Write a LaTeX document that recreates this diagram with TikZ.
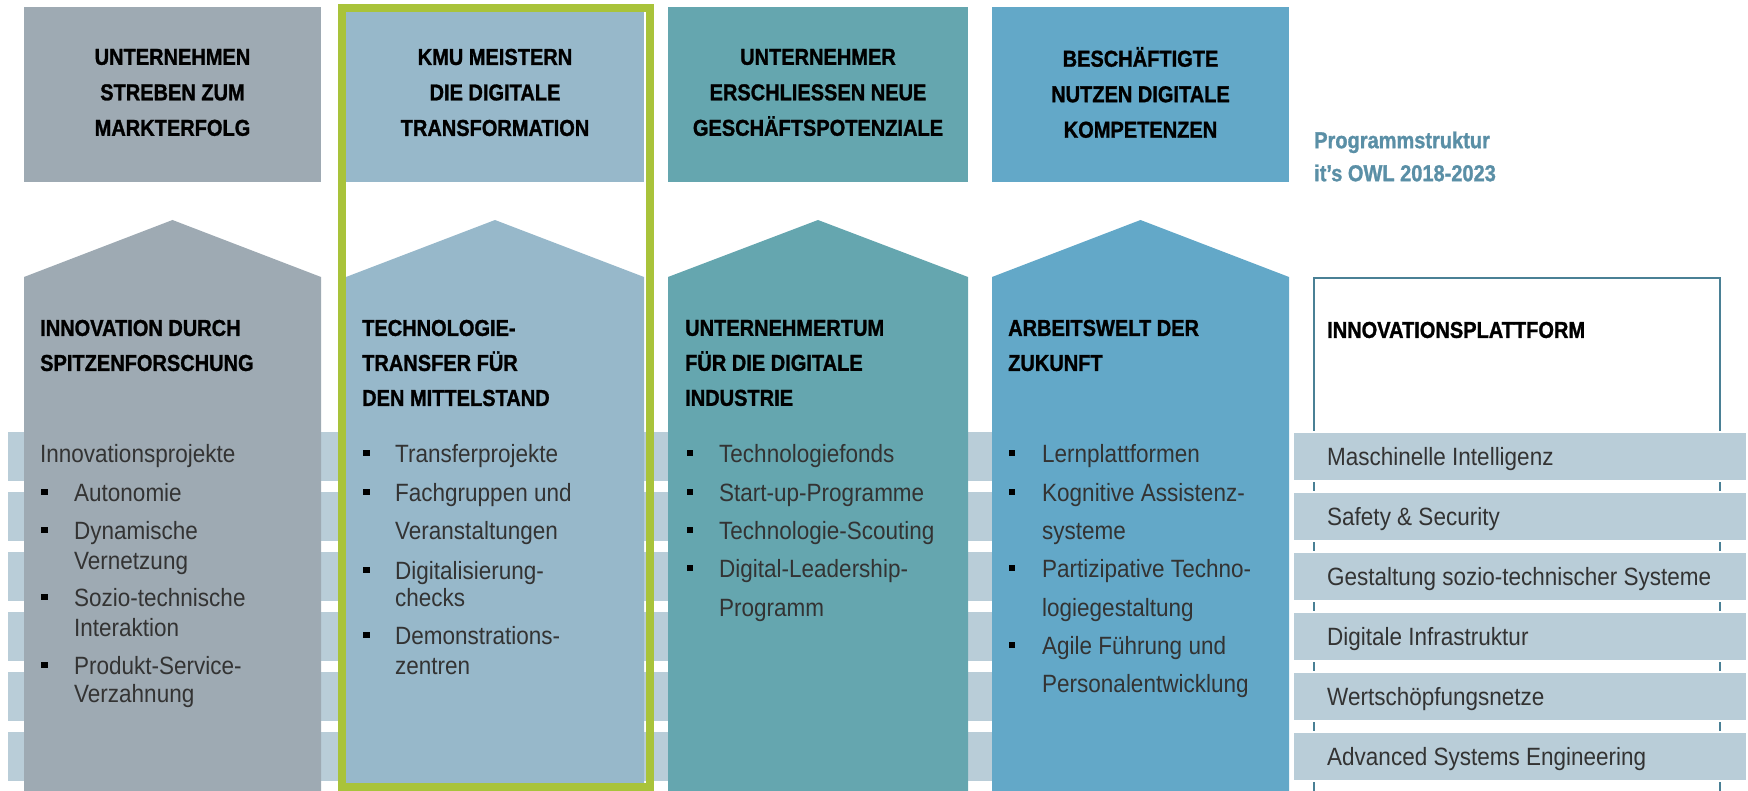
\documentclass[tikz,border=0pt]{standalone}
\usepackage{fontspec}
\setmainfont{Liberation Sans}
\newfontfamily\headfont{Liberation Sans}[FakeStretch=0.87,FakeBold=1.2]
\newfontfamily\bodyfont{Liberation Sans}[FakeStretch=0.9]
\definecolor{colgrey}{HTML}{9EAAB3}
\definecolor{collight}{HTML}{97B8CA}
\definecolor{colteal}{HTML}{65A6AF}
\definecolor{colblue}{HTML}{63A8C8}
\definecolor{stripegrey}{HTML}{B9CDD8}
\definecolor{framegreen}{HTML}{A9C33A}
\definecolor{titleblue}{HTML}{5A8FA6}
\definecolor{outlineblue}{HTML}{4A8095}

\begin{document}
\begin{tikzpicture}[x=1pt,y=-1pt,
	every node/.style={inner sep=0pt},
	headtext/.style={font=\headfont\bfseries\fontsize{23}{35.5}\selectfont,align=center},
	titletext/.style={font=\headfont\bfseries\fontsize{23}{35}\selectfont,align=left,anchor=west},
	itemtext/.style={font=\bodyfont\fontsize{25}{30}\selectfont,anchor=west,text height=18pt,text depth=0pt,text=black!80},
	bulletsq/.style={fill=black,minimum size=6.5pt},
	stripebar/.style={fill=stripegrey,draw=white,line width=2.5pt},
]
	\useasboundingbox (0,0) rectangle (1748,791);

	% Querbalken hinter den Saeulen
	\foreach \yy in {432,492,552,612,672,732}
		\fill[stripegrey] (8,\yy) rectangle (1289,\yy+49);

	% Saeulen: Ziel oben, Haus darunter
	\foreach \xa/\xb/\cc in {24/321/colgrey,346/644/collight,668/968/colteal,992/1289/colblue} {
		\fill[\cc] (\xa,7) rectangle (\xb,182);
		\fill[\cc] (\xa,277) -- ({(\xa+\xb)/2},220) -- (\xb,277) -- (\xb,791) -- (\xa,791) -- cycle;
	}
	\draw[framegreen,line width=8pt] (342,8) rectangle (650,787);

	\node[headtext] (h1) at (172.5,92.5) {UNTERNEHMEN\\STREBEN ZUM\\MARKTERFOLG};
	\node[headtext] (h2) at (495,92.5) {KMU MEISTERN\\DIE DIGITALE\\TRANSFORMATION};
	\node[headtext] (h3) at (818,92.5) {UNTERNEHMER\\ERSCHLIESSEN NEUE\\GESCHÄFTSPOTENZIALE};
	\node[headtext] (h4) at (1140.5,92.5) {BESCHÄFTIGTE\\NUTZEN DIGITALE\\KOMPETENZEN};

	\node[titletext] (t1) at (40,345.5) {INNOVATION DURCH\\SPITZENFORSCHUNG};
	\node[titletext] (t2) at (362,363) {TECHNOLOGIE-\\TRANSFER FÜR\\DEN MITTELSTAND};
	\node[titletext] (t3) at (685,363) {UNTERNEHMERTUM\\FÜR DIE DIGITALE\\INDUSTRIE};
	\node[titletext] (t4) at (1008,345.5) {ARBEITSWELT DER\\ZUKUNFT};

	% Spalte 1
	\node[itemtext] (p1) at (40,453) {Innovationsprojekte};
	\foreach \yy [count=\i] in {492,530,597,665}
		\node[bulletsq] (b1\i) at (44.5,\yy) {};
	\foreach \yy/\txt [count=\i] in {492/Autonomie,530/Dynamische,560/Vernetzung,597/Sozio-technische,627/Interaktion,665/Produkt-Service-,693/Verzahnung}
		\node[itemtext] (i1\i) at (74,\yy) {\txt};

	% Spalte 2
	\foreach \yy [count=\i] in {453,492,570,635}
		\node[bulletsq] (b2\i) at (366.5,\yy) {};
	\foreach \yy/\txt [count=\i] in {453/Transferprojekte,492/Fachgruppen und,530/Veranstaltungen,570/Digitalisierung-,597/checks,635/Demonstrations-,665/zentren}
		\node[itemtext] (i2\i) at (395,\yy) {\txt};

	% Spalte 3
	\foreach \yy [count=\i] in {453,492,530,568}
		\node[bulletsq] (b3\i) at (690,\yy) {};
	\foreach \yy/\txt [count=\i] in {453/Technologiefonds,492/Start-up-Programme,530/Technologie-Scouting,568/Digital-Leadership-,607/Programm}
		\node[itemtext] (i3\i) at (719,\yy) {\txt};

	% Spalte 4
	\foreach \yy [count=\i] in {453,492,568,645}
		\node[bulletsq] (b4\i) at (1012,\yy) {};
	\foreach \yy/\txt [count=\i] in {453/Lernplattformen,492/Kognitive Assistenz-,530/systeme,568/Partizipative Techno-,607/logiegestaltung,645/Agile Führung und,683/Personalentwicklung}
		\node[itemtext] (i4\i) at (1042,\yy) {\txt};

	% Innovationsplattform
	\node[font=\headfont\bfseries\fontsize{23}{33}\selectfont,text=titleblue,align=left,anchor=west] (prog) at (1314,156.5) {Programmstruktur\\it’s OWL 2018-2023};
	\draw[outlineblue,line width=2.5pt] (1314,791) -- (1314,278) -- (1720,278) -- (1720,791);
	\node[titletext] (plat) at (1327,330) {INNOVATIONSPLATTFORM};
	\foreach \yy/\txt [count=\i] in {432/Maschinelle Intelligenz,492/Safety \& Security,552/Gestaltung sozio-technischer Systeme,612/Digitale Infrastruktur,672/Wertschöpfungsnetze,732/Advanced Systems Engineering} {
		\filldraw[stripebar] (1293,\yy) rectangle (1747,\yy+49);
		\node[itemtext] (s\i) at (1327,\yy+24.5) {\txt};
	}
\end{tikzpicture}
\end{document}
